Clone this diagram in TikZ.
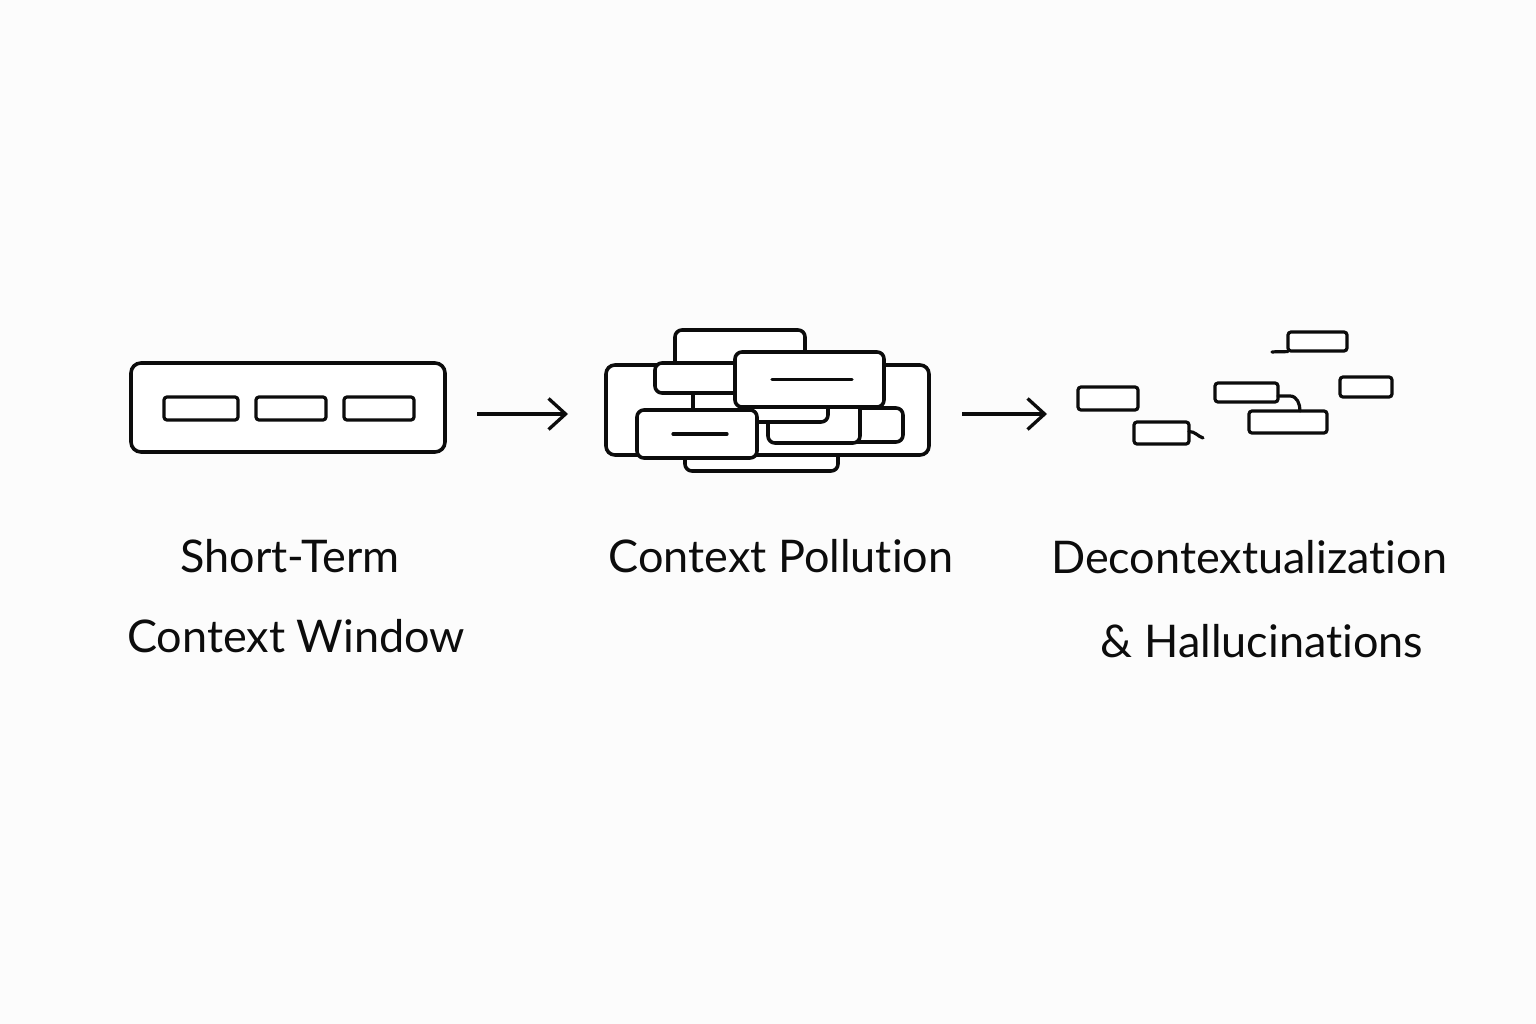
\documentclass[tikz,border=0pt]{standalone}
\usepackage{fontspec}
\setmainfont{Lato}[Ligatures={NoCommon,NoRare,NoDiscretionary}]
\usetikzlibrary{arrows.meta,calc}
\definecolor{bgc}{RGB}{252,252,252}
\definecolor{ink}{RGB}{12,12,12}
\begin{document}
\begin{tikzpicture}[x=1pt,y=-1pt,
  rbox/.style={draw=ink, line width=3.6pt, fill=white, rounded corners=7pt, inner sep=0pt, outer sep=0pt},
  sbox/.style={draw=ink, line width=3.2pt, fill=white, rounded corners=3pt, inner sep=0pt, outer sep=0pt},
  conn/.style={draw=ink, line width=3.2pt, line cap=round},
  arr/.style={draw=ink, line width=3.3pt, -{Straight Barb[length=17pt,width=31pt,line width=3.3pt]}},
  lbl/.style={anchor=base, inner sep=0pt, text=ink, font=\fontsize{45}{50}\selectfont}]
\fill[bgc] (0,0) rectangle (1536,1024);
\useasboundingbox (0,0) rectangle (1536,1024);
% left: short-term window
\node[rbox, rounded corners=10pt, minimum width=314pt, minimum height=89pt] (win) at (288,407.5) {};
\node[sbox, minimum width=74pt, minimum height=23pt] (s1) at (201,408.5) {};
\node[sbox, minimum width=70pt, minimum height=23pt] (s2) at (291,408.5) {};
\node[sbox, minimum width=70pt, minimum height=23pt] (s3) at (379,408.5) {};
% arrows
\coordinate (a1s) at (477,414);
\coordinate (a1e) at (568,414);
\coordinate (a2s) at (962,414);
\coordinate (a2e) at (1047,414);
\draw[arr] (a1s) -- (a1e);
\draw[arr] (a2s) -- (a2e);
% middle: polluted context
\node[rbox, minimum width=153pt, minimum height=31pt] (pbot) at (761.5,455.5) {};
\node[rbox, rounded corners=9pt, minimum width=323pt, minimum height=90pt] (pbig) at (767.5,410) {};
\node[rbox, minimum width=130pt, minimum height=50pt] (pa) at (740,355) {};
\node[rbox, minimum width=63pt, minimum height=34pt] (pf) at (871.5,425) {};
\node[rbox, minimum width=92pt, minimum height=48pt] (pg) at (814,419) {};
\node[rbox, minimum width=135pt, minimum height=42pt] (pc) at (760.5,401) {};
\node[rbox, minimum width=105pt, minimum height=30pt] (pb) at (707.5,378) {};
\node[rbox, minimum width=149pt, minimum height=55pt] (pe) at (809.5,379.5) {};
\draw[conn] ($(pe.center)+(-37.5,0)$) -- ($(pe.center)+(42.5,0)$);
\node[rbox, minimum width=120pt, minimum height=48pt] (pd) at (697,434) {};
\draw[conn] ($(pd.center)+(-24,0)$) -- ($(pd.center)+(30,0)$);
% right: scattered fragments
\node[sbox, minimum width=60pt, minimum height=23pt] (r1) at (1108,398.5) {};
\node[sbox, minimum width=55pt, minimum height=22pt] (r2) at (1161.5,433) {};
\node[sbox, minimum width=59pt, minimum height=19pt] (r3) at (1317.5,341.5) {};
\node[sbox, minimum width=63pt, minimum height=19pt] (r4) at (1246.5,392.5) {};
\node[sbox, minimum width=78pt, minimum height=22pt] (r5) at (1288,422) {};
\node[sbox, minimum width=52pt, minimum height=20pt] (r6) at (1366,387) {};
\coordinate (t2) at (1203,438);
\coordinate (t3) at (1272,352);
\draw[conn] ([yshift=1.5pt]r2.east) to[out=0,in=160] (t2);
\draw[conn] ([yshift=-0.5pt]r3.south west) to[out=185,in=5] (t3);
\draw[conn] ([yshift=-3.5pt]r4.east) -- ++(12,0) to[out=0,in=90] ([xshift=12pt]r5.north);
% labels
\node[lbl] (l1) at (290,572) {Short-Term};
\node[lbl] (l2) at (296,652) {Context Window};
\node[lbl] (l3) at (781,572) {Context Pollution};
\node[lbl] (l4) at (1249,573) {Decontextualization};
\node[lbl] (l5) at (1262,657) {\& Hallucinations};
\end{tikzpicture}
\end{document}
